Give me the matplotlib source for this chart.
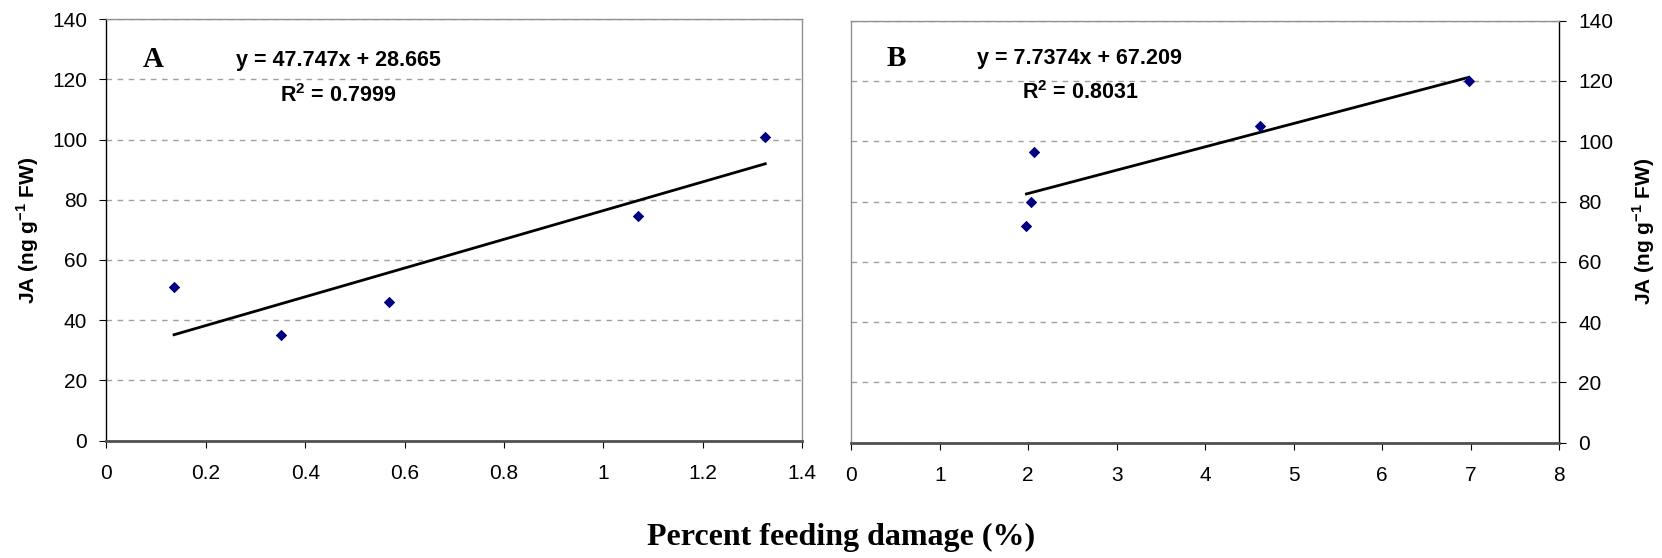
import matplotlib
matplotlib.use("Agg")
import matplotlib.pyplot as plt

plt.rcParams['font.family'] = ['Liberation Sans', 'DejaVu Sans']
plt.rcParams['mathtext.fontset'] = 'custom'
plt.rcParams['mathtext.rm'] = 'Liberation Sans'
plt.rcParams['mathtext.bf'] = 'Liberation Sans:bold'

# Panel A: feeding damage vs JA
damage_a = [0.136, 0.352, 0.568, 1.069, 1.326]
ja_a = [51.0, 35.0, 46.0, 74.7, 101.0]
slope_a, intercept_a, r2_a = 47.747, 28.665, 0.7999

# Panel B
damage_b = [1.98, 2.03, 2.07, 4.62, 6.98]
ja_b = [72.0, 80.0, 96.3, 105.2, 120.0]
slope_b, intercept_b, r2_b = 7.7374, 67.209, 0.8031

xticks_a = [0, 0.2, 0.4, 0.6, 0.8, 1.0, 1.2, 1.4]
xticklabels_a = ["0", "0.2", "0.4", "0.6", "0.8", "1", "1.2", "1.4"]
xticks_b = [0, 1, 2, 3, 4, 5, 6, 7, 8]
xticklabels_b = [str(v) for v in xticks_b]
yticks = [0, 20, 40, 60, 80, 100, 120, 140]

W, H = 1662, 558
fig = plt.figure(figsize=(W / 100, H / 100), dpi=100)


def frac(x0, y0, x1, y1):
    return [x0 / W, 1 - y1 / H, (x1 - x0) / W, (y1 - y0) / H]


axA = fig.add_axes(frac(106.5, 19.3, 802, 440.5))
axB = fig.add_axes(frac(851.3, 20.7, 1559, 442.7))

ylabel = r"JA (ng g$^{\mathbf{-1}}$ FW)"


def style(ax, xmax, xt, xtl, side):
    ax.set_xlim(0, xmax)
    ax.set_ylim(0, 140)
    ax.set_xticks(xt)
    ax.set_xticklabels(xtl)
    ax.set_yticks(yticks)
    ax.grid(axis='y', color='#a0a0a0', linestyle=(0, (4, 4)), linewidth=1.0)
    ax.set_axisbelow(True)
    for s in ax.spines.values():
        s.set_color('#909090')
        s.set_linewidth(1.0)
    ax.spines['bottom'].set_color('#505050')
    ax.spines['bottom'].set_linewidth(2.0)
    ax.spines[side].set_color('black')
    ax.spines[side].set_linewidth(1.0)
    ax.tick_params(axis='x', direction='out', length=5, width=0.8, pad=12,
                   labelsize=15, color='black')
    ax.tick_params(axis='y', direction='out', length=5, width=0.8, pad=9,
                   labelsize=15, color='black')
    if side == 'right':
        ax.yaxis.tick_right()
        ax.yaxis.set_label_position('right')
        ax.set_ylabel(ylabel, fontsize=15, fontweight='bold', labelpad=12,
                      rotation=90)
    else:
        ax.set_ylabel(ylabel, fontsize=15, fontweight='bold', labelpad=8)


style(axA, 1.4, xticks_a, xticklabels_a, 'left')
style(axB, 8, xticks_b, xticklabels_b, 'right')

for ax, xs, ys, m, b in [(axA, damage_a, ja_a, slope_a, intercept_a),
                         (axB, damage_b, ja_b, slope_b, intercept_b)]:
    x0, x1 = min(xs), max(xs)
    ax.plot([x0, x1], [m * x0 + b, m * x1 + b], color='black', lw=2.0,
            zorder=3)
    ax.scatter(xs, ys, marker='D', s=34, color='#000080', zorder=4,
               linewidths=0)

# panel letters and fitted equations
eq_size = 15.5
axA.text(0.067, 0.905, "A", transform=axA.transAxes, fontsize=21,
         fontweight='bold', family='Liberation Serif', ha='center',
         va='center')
axA.text(0.333, 0.902, f"y = {slope_a}x + {intercept_a}",
         transform=axA.transAxes, fontsize=eq_size, fontweight='bold',
         ha='center', va='center')
axA.text(0.333, 0.820, r"R$^{\mathbf{2}}$" + f" = {r2_a}",
         transform=axA.transAxes, fontsize=eq_size, fontweight='bold',
         ha='center', va='center')

axB.text(0.064, 0.911, "B", transform=axB.transAxes, fontsize=21,
         fontweight='bold', family='Liberation Serif', ha='center',
         va='center')
axB.text(0.323, 0.911, f"y = {slope_b}x + {intercept_b}",
         transform=axB.transAxes, fontsize=eq_size, fontweight='bold',
         ha='center', va='center')
axB.text(0.323, 0.830, r"R$^{\mathbf{2}}$" + f" = {r2_b}",
         transform=axB.transAxes, fontsize=eq_size, fontweight='bold',
         ha='center', va='center')

fig.text(841 / W, 1 - 537 / H, "Percent feeding damage (%)",
         family='Liberation Serif', fontweight='bold', fontsize=23,
         ha='center', va='center')

fig.savefig("out.png", dpi=100)
